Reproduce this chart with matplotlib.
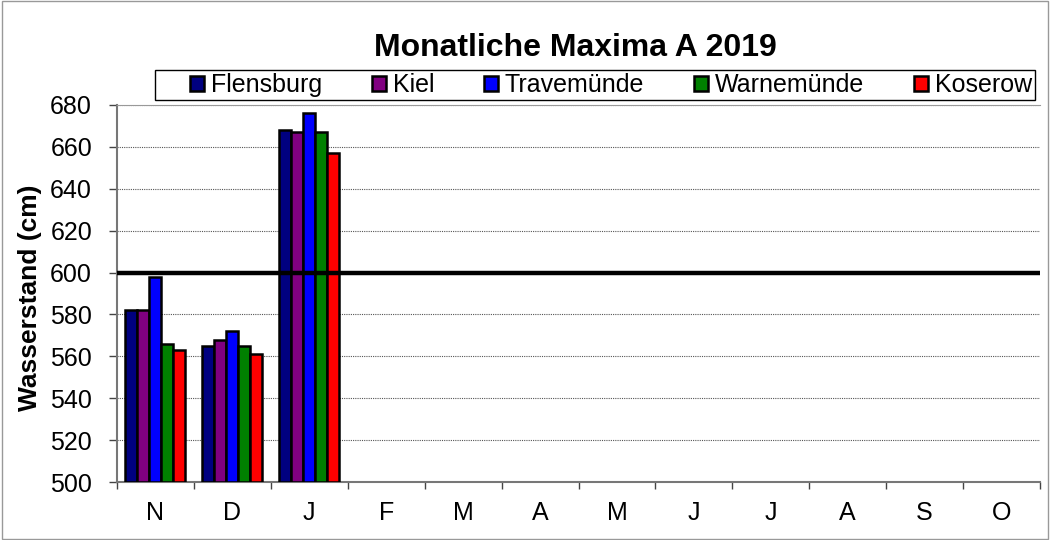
import matplotlib.pyplot as plt
import numpy as np

plt.rcParams['font.family'] = ['Liberation Sans', 'DejaVu Sans']

months = ['N', 'D', 'J', 'F', 'M', 'A', 'M', 'J', 'J', 'A', 'S', 'O']
stations = ['Flensburg', 'Kiel', 'Travemünde', 'Warnemünde', 'Koserow']
colors = ['#000080', '#800080', '#0000ff', '#008000', '#ff0000']

flensburg = [582, 565, 668]
kiel = [582, 568, 667]
travemuende = [598, 572, 676]
warnemuende = [566, 565, 667]
koserow = [563, 561, 657]
series = [flensburg, kiel, travemuende, warnemuende, koserow]

W, H = 1050, 540
fig = plt.figure(figsize=(10.5, 5.4), dpi=100)
ax = fig.add_axes([117/W, 1 - 482/H, (1040 - 117)/W, (482 - 105)/H])

# frame around the whole picture
fig.patches.append(plt.Rectangle((0.002, 0.002), 0.996, 0.996, transform=fig.transFigure,
                                 fill=False, edgecolor='#999999', linewidth=1))

w = 0.156
x = np.arange(len(months))
for k, (name, vals, c) in enumerate(zip(stations, series, colors)):
    xs = np.arange(len(vals)) + (k - 2) * w
    ax.bar(xs, np.array(vals) - 500, bottom=500, width=w, color=c,
           edgecolor='black', linewidth=1.8, label=name, zorder=3)

ax.axhline(600, color='black', linewidth=3.2, zorder=4)

ax.set_xlim(-0.5, len(months) - 0.5)
ax.set_ylim(500, 680)
ax.set_yticks(range(500, 681, 20))
ax.yaxis.grid(True, color='#555555', linestyle=(0, (1, 1)), linewidth=0.8, zorder=0)

ax.set_xticks(x)
ax.set_xticklabels(months, fontsize=18)
ax.set_xticks(np.arange(-0.5, len(months), 1), minor=True)
ax.tick_params(axis='x', which='major', length=0, pad=14)
ax.tick_params(axis='x', which='minor', length=5, width=1, color='#444444', direction='out')
ax.tick_params(axis='y', labelsize=18, length=6, width=1, color='#444444', pad=12)

ax.spines['right'].set_visible(False)
ax.spines['left'].set_color('#777777')
ax.spines['bottom'].set_color('#777777')
ax.spines['top'].set_color('#999999')
ax.spines['left'].set_linewidth(1.5)
ax.spines['bottom'].set_linewidth(1.5)

ax.set_ylabel('Wasserstand (cm)', fontsize=19, fontweight='bold')
ax.yaxis.set_label_coords((42 - 117) / 923, 0.49)

fig.text(575/W, 1 - 48/H, 'Monatliche Maxima A 2019', fontsize=23, fontweight='bold',
         ha='center', va='center')

# legend box
fig.patches.append(plt.Rectangle((155/W, 1 - 100/H), 880/W, 30/H, transform=fig.transFigure,
                                 fill=False, edgecolor='black', linewidth=1))
leg = ax.legend(loc='center', bbox_to_anchor=(611/W, 1 - 85/H), bbox_transform=fig.transFigure,
                ncol=5, fontsize=18, frameon=False, handlelength=0.55, handleheight=0.55,
                handletextpad=0.28, columnspacing=2.0, borderpad=0)

fig.savefig('out.png', dpi=100)
